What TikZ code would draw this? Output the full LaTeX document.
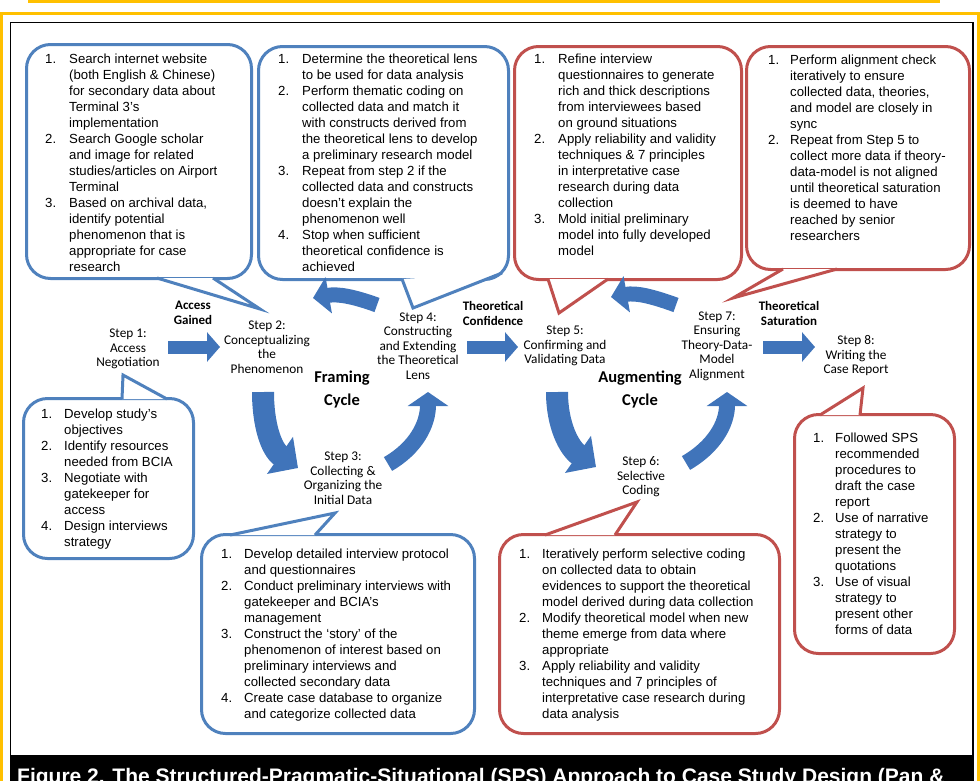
\documentclass[tikz,border=0pt]{standalone}
\usepackage{fontspec}
\setmainfont{Liberation Sans}
\newfontfamily\calibri{Carlito}
\usetikzlibrary{arrows.meta,positioning,calc}
\definecolor{calblue}{RGB}{79,129,189}
\definecolor{calred}{RGB}{192,80,77}
\definecolor{arrblue}{RGB}{64,116,186}
\definecolor{framegold}{RGB}{255,192,0}
\newcommand\steplist[2]{\begin{tabular}[t]{@{}p{#1}@{}l@{}}#2\end{tabular}}
\newcommand\calltail[4]{%
  \fill[white] #2 -- #3 -- #4 -- cycle;
  \draw[#1, line width=3pt] #2 -- #3 -- #4;}

\begin{document}
\begin{tikzpicture}[x=1pt, y=-1pt,
    bbox/.style={draw=calblue, line width=3pt, rounded corners=24pt, fill=white, inner sep=0pt, anchor=north west},
    rbox/.style={bbox, draw=calred},
    ltxt/.style={anchor=base west, inner sep=0pt, font=\fontsize{13.2}{16}\selectfont},
    stepl/.style={align=center, inner sep=2pt, font=\calibri\fontsize{13.3}{14.5}\selectfont},
    gate/.style={align=center, inner sep=0pt, font=\calibri\bfseries\fontsize{13}{15}\selectfont},
    cyc/.style={align=center, inner sep=0pt, font=\calibri\bfseries\fontsize{16.5}{23}\selectfont},
    flat/.style={arrblue, line width=13pt, -{Triangle[length=13pt, width=29pt]}},
    bent/.style={arrblue, line width=#1}
]
\useasboundingbox (0,0) rectangle (980,780);
\clip (0,0) rectangle (980,780);

% frame and caption band
\fill[framegold] (28,0) rectangle (940,3);
\draw[framegold, line width=3pt] (1.5,13.5) rectangle (978.5,800);
\draw[line width=1.5pt] (10.5,22.5) rectangle (973,800);
\fill[black] (11,755) rectangle (973,800);
\node[anchor=base west, inner sep=0pt, text=white, font=\bfseries\fontsize{21}{21}\selectfont] (cap) at (17,783)
  {Figure 2. The Structured-Pragmatic-Situational (SPS) Approach to Case Study Design (Pan \&};

% steps
\node[stepl] (s1) at (128,349) {Step 1:\\Access\\Negotiation};
\node[stepl] (s2) at (267,347) {Step 2:\\Conceptualizing\\the\\Phenomenon};
\node[stepl] (s3) at (343,478) {Step 3:\\Collecting \&\\Organizing the\\Initial Data};
\node[stepl] (s4) at (418,346) {Step 4:\\Constructing\\and Extending\\the Theoretical\\Lens};
\node[stepl] (s5) at (565,346) {Step 5:\\Confirming and\\Validating Data};
\node[stepl] (s6) at (641,477) {Step 6:\\Selective\\Coding};
\node[stepl] (s7) at (717,346) {Step 7:\\Ensuring\\Theory-Data-\\Model\\Alignment};
\node[stepl] (s8) at (856,356) {Step 8:\\Writing the\\Case Report};

\node[gate] (gained) at (193,313) {Access\\Gained};
\node[gate] (confid) at (493,313) {Theoretical\\Confidence};
\node[gate] (satur) at (789,313) {Theoretical\\Saturation};
\node[cyc] (framing) at (342,389) {Framing\\Cycle};
\node[cyc] (augment) at (640,389) {Augmenting\\Cycle};

% callouts
\node[bbox, minimum width=225pt, minimum height=234pt] (c1) at (25,43) {};
\node[bbox, minimum width=250pt, minimum height=233pt] (c2) at (257,45) {};
\node[rbox, minimum width=227pt, minimum height=233pt] (c3) at (513,45) {};
\node[rbox, minimum width=223pt, minimum height=223pt] (c4) at (745,45) {};
\node[bbox, minimum width=170pt, minimum height=160pt] (c5) at (22,397) {};
\node[bbox, minimum width=273pt, minimum height=199pt] (c6) at (200,533) {};
\node[rbox, minimum width=280pt, minimum height=199pt] (c7) at (498,533) {};
\node[rbox, minimum width=160pt, minimum height=239pt] (c8) at (793,413) {};

\calltail{calblue}{([shift={(132,-2)}]c1.south west)}{([shift={(-7,-38)}]s2.center)}{([shift={(188,-2)}]c1.south west)}
\calltail{calblue}{([shift={(145,-2)}]c2.south west)}{([shift={(-5,-38)}]s4.center)}{([shift={(-8,-8)}]c2.south east)}
\calltail{calred}{([shift={(35,-2)}]c3.south west)}{([shift={(-6,-33)}]s5.center)}{([shift={(95,-2)}]c3.south west)}
\calltail{calred}{([shift={(38,-2)}]c4.south west)}{([shift={(16,-48)}]s7.center)}{([shift={(92,-2)}]c4.south west)}
\calltail{calblue}{([shift={(100,2)}]c5.north west)}{([shift={(-5,26)}]s1.center)}{([shift={(145,2)}]c5.north west)}
\calltail{calblue}{([shift={(30,2)}]c6.north west)}{([shift={(-8,35)}]s3.center)}{([shift={(115,2)}]c6.north west)}
\calltail{calred}{([shift={(47,2)}]c7.north west)}{([shift={(-4,25)}]s6.center)}{([shift={(117,2)}]c7.north west)}
\calltail{calred}{([shift={(27,2)}]c8.north west)}{([shift={(7,32)}]s8.center)}{([shift={(67,2)}]c8.north west)}

\node[ltxt] (t1) at ([shift={(20,20)}]c1.north west) {\steplist{24pt}{%
1. & Search internet website\\
   & (both English \& Chinese)\\
   & for secondary data about\\
   & Terminal 3’s\\
   & implementation\\
2. & Search Google scholar\\
   & and image for related\\
   & studies/articles on Airport\\
   & Terminal\\
3. & Based on archival data,\\
   & identify potential\\
   & phenomenon that is\\
   & appropriate for case\\
   & research}};
\node[ltxt] (t2) at ([shift={(21,18)}]c2.north west) {\steplist{24pt}{%
1. & Determine the theoretical lens\\
   & to be used for data analysis\\
2. & Perform thematic coding on\\
   & collected data and match it\\
   & with constructs derived from\\
   & the theoretical lens to develop\\
   & a preliminary research model\\
3. & Repeat from step 2 if the\\
   & collected data and constructs\\
   & doesn’t explain the\\
   & phenomenon well\\
4. & Stop when sufficient\\
   & theoretical confidence is\\
   & achieved}};
\node[ltxt] (t3) at ([shift={(21,18)}]c3.north west) {\steplist{24pt}{%
1. & Refine interview\\
   & questionnaires to generate\\
   & rich and thick descriptions\\
   & from interviewees based\\
   & on ground situations\\
2. & Apply reliability and validity\\
   & techniques \& 7 principles\\
   & in interpretative case\\
   & research during data\\
   & collection\\
3. & Mold initial preliminary\\
   & model into fully developed\\
   & model}};
\node[ltxt] (t4) at ([shift={(23,19)}]c4.north west) {\steplist{22pt}{%
1. & Perform alignment check\\
   & iteratively to ensure\\
   & collected data, theories,\\
   & and model are closely in\\
   & sync\\
2. & Repeat from Step 5 to\\
   & collect more data if theory-\\
   & data-model is not aligned\\
   & until theoretical saturation\\
   & is deemed to have\\
   & reached by senior\\
   & researchers}};
\node[ltxt] (t5) at ([shift={(19,21)}]c5.north west) {\steplist{23pt}{%
1. & Develop study’s\\
   & objectives\\
2. & Identify resources\\
   & needed from BCIA\\
3. & Negotiate with\\
   & gatekeeper for\\
   & access\\
4. & Design interviews\\
   & strategy}};
\node[ltxt] (t6) at ([shift={(21,25)}]c6.north west) {\steplist{23pt}{%
1. & Develop detailed interview protocol\\
   & and questionnaires\\
2. & Conduct preliminary interviews with\\
   & gatekeeper and BCIA’s\\
   & management\\
3. & Construct the ‘story’ of the\\
   & phenomenon of interest based on\\
   & preliminary interviews and\\
   & collected secondary data\\
4. & Create case database to organize\\
   & and categorize collected data}};
\node[ltxt] (t7) at ([shift={(21,25)}]c7.north west) {\steplist{23pt}{%
1. & Iteratively perform selective coding\\
   & on collected data to obtain\\
   & evidences to support the theoretical\\
   & model derived during data collection\\
2. & Modify theoretical model when new\\
   & theme emerge from data where\\
   & appropriate\\
3. & Apply reliability and validity\\
   & techniques and 7 principles of\\
   & interpretative case research during\\
   & data analysis}};
\node[ltxt] (t8) at ([shift={(20,29)}]c8.north west) {\steplist{22pt}{%
1. & Followed SPS\\
   & recommended\\
   & procedures to\\
   & draft the case\\
   & report\\
2. & Use of narrative\\
   & strategy to\\
   & present the\\
   & quotations\\
3. & Use of visual\\
   & strategy to\\
   & present other\\
   & forms of data}};

% arrows between steps
\draw[flat] ([shift={(40,-2)}]s1.center) -- ([shift={(-47,0)}]s2.center);
\draw[flat] ([shift={(49,1)}]s4.center) -- ([shift={(-47,1)}]s5.center);
\draw[flat] ([shift={(46,1)}]s7.center) -- ([shift={(-41,-9)}]s8.center);

% framing cycle
\draw[bent=15pt, -{Triangle[length=16pt, width=36pt]}] ([shift={(-41,-41)}]s4.center) to[out=160, in=10] ([shift={(46,-49)}]s2.center);
\draw[bent=22pt, -{Triangle[length=22pt, width=44pt]}] ([shift={(-4,45)}]s2.center) to[out=-90, in=145] ([shift={(-45,-10)}]s3.center);
\draw[bent=16pt, -{Triangle[length=14pt, width=40pt]}] ([shift={(45,-14)}]s3.center) to[out=30, in=-90] ([shift={(10,46)}]s4.center);

% augmenting cycle
\draw[bent=15pt, -{Triangle[length=16pt, width=36pt]}] ([shift={(-41,-41)}]s7.center) to[out=160, in=10] ([shift={(46,-49)}]s5.center);
\draw[bent=22pt, -{Triangle[length=22pt, width=44pt]}] ([shift={(-8,46)}]s5.center) to[out=-90, in=145] ([shift={(-45,-10)}]s6.center);
\draw[bent=16pt, -{Triangle[length=14pt, width=40pt]}] ([shift={(45,-14)}]s6.center) to[out=30, in=-90] ([shift={(10,46)}]s7.center);
\end{tikzpicture}
\end{document}
